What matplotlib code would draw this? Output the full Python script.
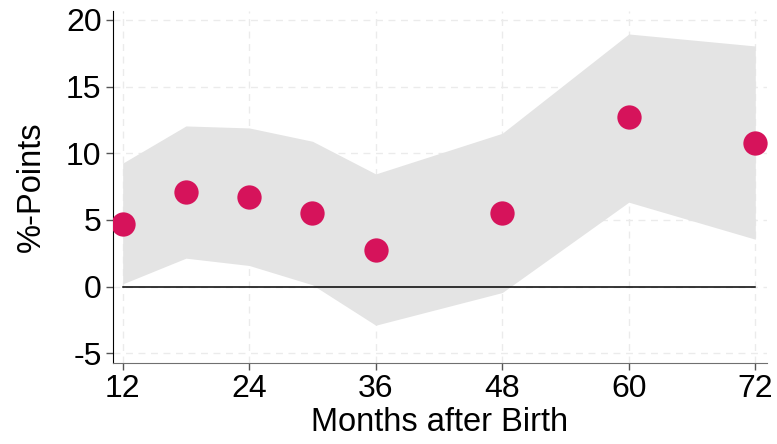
import matplotlib
matplotlib.use('Agg')
import matplotlib.pyplot as plt

plt.rcParams['font.family'] = ['Liberation Sans', 'DejaVu Sans']
plt.rcParams['axes.unicode_minus'] = False

# data
months = [12, 18, 24, 30, 36, 48, 60, 72]
estimate = [4.7, 7.1, 6.7, 5.5, 2.75, 5.5, 12.7, 10.75]
ci_low = [0.2, 2.13, 1.58, 0.13, -2.9, -0.45, 6.33, 3.55]
ci_high = [9.26, 12.05, 11.9, 10.9, 8.45, 11.5, 18.95, 18.05]
xticks = [12, 24, 36, 48, 60, 72]
yticks = [-5, 0, 5, 10, 15, 20]

fig = plt.figure(figsize=(7.77, 4.44), dpi=100)
ax = fig.add_axes([0.145, 0.182, 0.842, 0.794])

ax.fill_between(months, ci_low, ci_high, color='#e4e4e4', lw=0, zorder=1)
ax.plot([months[0], months[-1]], [0, 0], color='black', lw=1.1, zorder=2)
ax.plot(months, estimate, 'o', color='#d6135b', ms=17.5, mec='none', zorder=3)

ax.set_xlim(11.05, 73.1)
ax.set_ylim(-5.75, 20.7)
ax.set_xticks(xticks)
ax.set_yticks(yticks)
ax.grid(True, ls=(0, (5, 4)), color='#ebebeb', lw=1)
ax.set_axisbelow(True)

for s in ['top', 'right']:
    ax.spines[s].set_visible(False)
ax.spines['left'].set_color('black')
ax.spines['bottom'].set_color('#707070')
ax.tick_params(axis='both', labelsize=23, length=5, width=1, colors='#555555', labelcolor='black', pad=3)

ax.set_xlabel('Months after Birth', fontsize=23.5, labelpad=2)
ax.set_ylabel('%-Points', fontsize=23.5, labelpad=14)

fig.savefig('out.png', dpi=100)
